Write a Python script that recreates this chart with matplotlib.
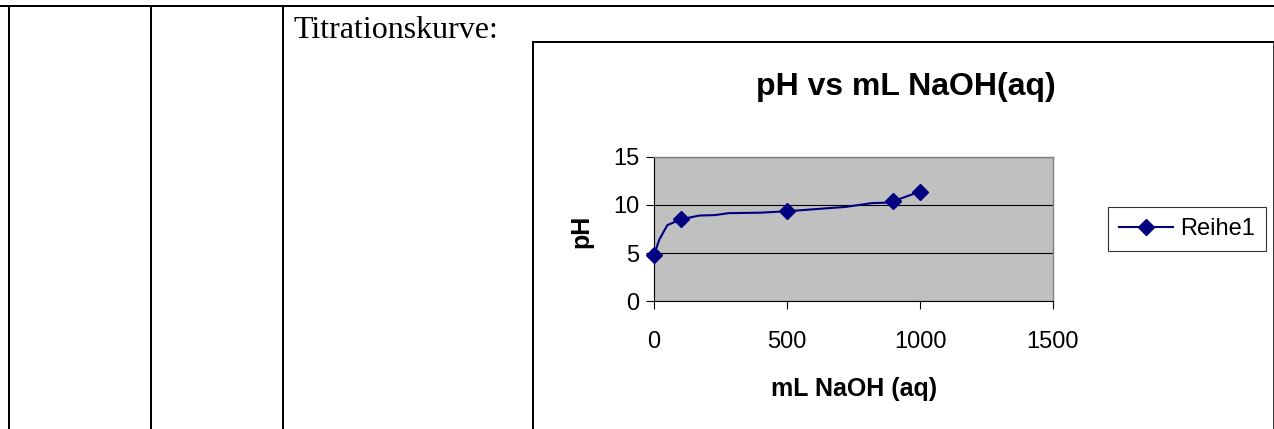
import matplotlib.pyplot as plt
from matplotlib.lines import Line2D

plt.rcParams['font.family'] = ['Liberation Sans', 'DejaVu Sans']

# data
ml_marked = [0, 100, 500, 900, 1000]
ph_marked = [4.8, 8.5, 9.35, 10.4, 11.4]
# smoothed line between the markers
ml_curve = [0, 20, 50, 100, 170, 230, 280, 400, 500, 720, 820, 880, 900, 950, 1000]
ph_curve = [4.8, 6.4, 7.9, 8.5, 8.9, 8.95, 9.15, 9.2, 9.35, 9.8, 10.2, 10.25, 10.4, 10.9, 11.4]
x_ticks = [0, 500, 1000, 1500]
y_ticks = [0, 5, 10, 15]
series_name = "Reihe1"

W, H = 1274, 429
navy = "#000080"

fig = plt.figure(figsize=(W / 100, H / 100), dpi=100)


def px(x, y):
    # pixel position (from top-left) -> figure fraction
    return x / W, 1 - y / H


def hline(x0, x1, y, lw=2, color="black"):
    (a, b), (c, _) = px(x0, y), px(x1, y)
    fig.add_artist(Line2D([a, c], [b, b], color=color, lw=lw * 0.72))


def vline(x, y0, y1, lw=2, color="black"):
    (a, b), (_, d) = px(x, y0), px(x, y1)
    fig.add_artist(Line2D([a, a], [b, d], color=color, lw=lw * 0.72))


# table rules of the surrounding document
hline(0, W, 5.5)
for xv in [9, 151, 283]:
    vline(xv, 5.5, H)
fig.text(*px(293, 37.5), "Titrationskurve:", family="Liberation Serif", fontsize=23, va="baseline")

# chart frame
hline(533, 1273, 41.5)
vline(533, 41.5, H)
vline(1272.5, 41.5, H, lw=1, color="#404040")

# plot area
l, t, r, b = 654, 157, 1053, 301
ax = fig.add_axes([l / W, 1 - b / H, (r - l) / W, (b - t) / H])
ax.set_facecolor("#C0C0C0")
ax.plot(ml_curve, ph_curve, color=navy, lw=1.5, zorder=3)
ax.plot(ml_marked, ph_marked, color=navy, lw=0, marker="D", markersize=8, zorder=4, clip_on=False)
ax.set_xlim(0, 1500)
ax.set_ylim(0, 15)
ax.set_xticks(x_ticks)
ax.set_yticks(y_ticks)
ax.grid(axis="y", color="black", lw=0.8)
ax.set_axisbelow(True)
for s in ["top", "right"]:
    ax.spines[s].set_color("#808080")
    ax.spines[s].set_linewidth(1)
for s in ["left", "bottom"]:
    ax.spines[s].set_color("black")
    ax.spines[s].set_linewidth(0.8)
ax.tick_params(direction="out", length=5.5, width=0.8, labelsize=17)
ax.tick_params(axis="y", pad=5)
ax.tick_params(axis="x", pad=16)

fig.text(*px(906, 95), "pH vs mL NaOH(aq)", fontsize=23, fontweight="bold", ha="center", va="baseline")
fig.text(*px(854, 389), "mL NaOH (aq)", fontsize=18, fontweight="bold", ha="center", va="center")
fig.text(*px(581, 231), "pH", fontsize=18, fontweight="bold", ha="center", va="center", rotation=90)

handle = Line2D([], [], color=navy, lw=1.5, marker="D", markersize=8)
leg = fig.legend([handle], [series_name], loc="center", bbox_to_anchor=px(1187, 229),
                 fontsize=17, frameon=True, fancybox=False, edgecolor="black",
                 handlelength=2.3, handletextpad=0.3, numpoints=1, borderpad=0.45,
                 borderaxespad=0)
leg.get_frame().set_linewidth(0.8)

fig.savefig("out.png", dpi=100)
